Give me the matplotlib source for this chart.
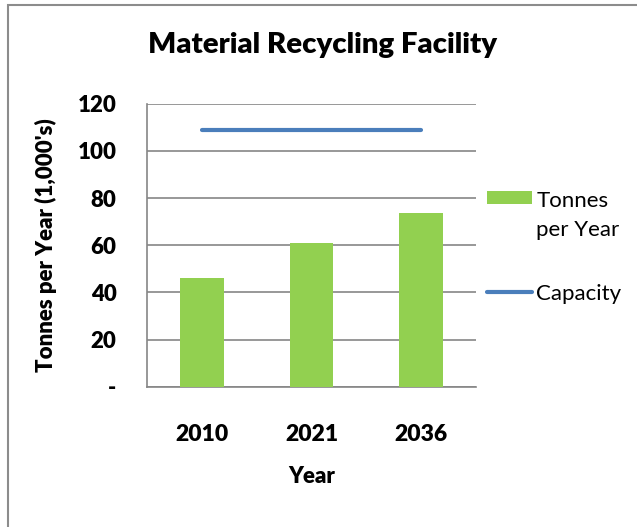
import matplotlib.pyplot as plt
from matplotlib.patches import Rectangle
from matplotlib.legend_handler import HandlerPatch

plt.rcParams['font.family'] = ['Lato', 'DejaVu Sans']

years = ['2010', '2021', '2036']
tonnes = [46, 61, 73.5]
capacity = [109, 109, 109]
y_ticks = [0, 20, 40, 60, 80, 100, 120]
y_labels = ['-', '20', '40', '60', '80', '100', '120']

green = '#92d050'
blue = '#4a7ebb'
grid = '#868686'

fig = plt.figure(figsize=(6.37, 5.27), dpi=100)
ax = fig.add_axes([0.231, 0.266, 0.516, 0.537])

x = list(range(len(years)))
bars = ax.bar(x, tonnes, width=0.4, color=green, zorder=3)
line, = ax.plot(x, capacity, color=blue, linewidth=3, solid_capstyle='round', zorder=4)

ax.set_xlim(-0.5, 2.5)
ax.set_ylim(0, 120)
ax.set_yticks(y_ticks)
ax.set_yticklabels(y_labels)
ax.set_xticks(x)
ax.set_xticklabels(years)
ax.grid(axis='y', color=grid, linewidth=1.2, zorder=0)

for s in ['top', 'right']:
    ax.spines[s].set_visible(False)
for s in ['left', 'bottom']:
    ax.spines[s].set_color(grid)
    ax.spines[s].set_linewidth(1.2)

ax.tick_params(axis='y', length=0, pad=22, labelsize=16)
ax.tick_params(axis='x', length=0, pad=27, labelsize=16.5)
for t in ax.get_xticklabels() + ax.get_yticklabels():
    t.set_fontweight('heavy')

ax.set_xlabel('Year', fontsize=16, fontweight='heavy', labelpad=15)
ax.set_ylabel("Tonnes per Year (1,000's)", fontsize=16, fontweight='heavy', labelpad=15)
fig.text(0.507, 0.915, 'Material Recycling Facility', ha='center', va='center',
         fontsize=21.2, fontweight='heavy')


# Excel puts the swatch next to the first line of a wrapped label
def top_patch(legend, orig_handle, xdescent, ydescent, width, height, fontsize):
    return Rectangle((-xdescent, -ydescent + 0.88 * fontsize), width, height * 0.84)


leg = fig.legend(handles=[bars[0], line], labels=['Tonnes\nper Year', 'Capacity'],
                 loc='upper left', bbox_to_anchor=(0.765, 0.638),
                 frameon=False, fontsize=16, handlelength=2.0, handletextpad=0.2,
                 labelspacing=2.0, borderpad=0, borderaxespad=0,
                 handler_map={bars[0]: HandlerPatch(patch_func=top_patch)})
for t in leg.get_texts():
    t.set_linespacing(1.55)

# outer chart border (only top and left edge visible in the crop)
fig.patches.append(Rectangle((8 / 637, -0.1), 1.2, 1 - 5 / 527 + 0.1,
                             transform=fig.transFigure, fill=False,
                             edgecolor='#8c8c8c', linewidth=1.5))

fig.savefig('out.png', dpi=100)
